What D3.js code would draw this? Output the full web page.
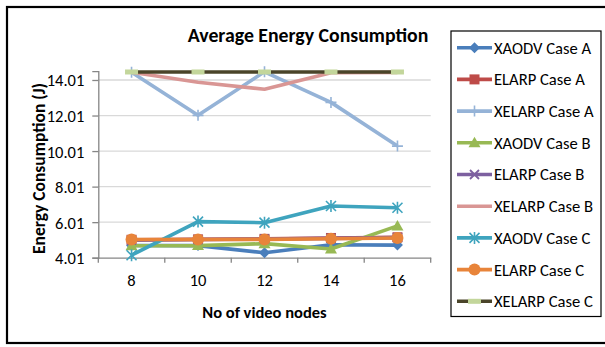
<!DOCTYPE html>
<html>
<head>
<meta charset="utf-8">
<script src="https://cdn.jsdelivr.net/npm/d3@7"></script>
<style>
  html, body { margin: 0; padding: 0; background: #fff; }
  svg text { font-family: Carlito, Lato, "Open Sans", sans-serif; fill: #000; }
</style>
</head>
<body>
<svg id="chart" width="605" height="347"></svg>
<script>
// Number of video nodes on the x axis
const nodes = [8, 10, 12, 14, 16];

// Average energy consumption (J) per protocol and case
const xaodvA  = [4.70, 4.69, 4.29, 4.74, 4.72];
const elarpA  = [5.02, 5.04, 5.07, 5.12, 5.16];
const xelarpA = [14.45, 12.02, 14.47, 12.75, 10.29];
const xaodvB  = [4.68, 4.69, 4.80, 4.50, 5.80];
const elarpB  = [5.00, 5.03, 5.06, 5.10, 5.14];
const xelarpB = [14.45, 13.88, 13.49, 14.42, 14.44];
const xaodvC  = [4.15, 6.04, 5.98, 6.92, 6.82];
const elarpC  = [5.03, 5.03, 5.04, 5.08, 5.12];
const xelarpC = [14.46, 14.46, 14.46, 14.46, 14.46];

const seriesNames = ["XAODV Case A", "ELARP Case A", "XELARP Case A",
                     "XAODV Case B", "ELARP Case B", "XELARP Case B",
                     "XAODV Case C", "ELARP Case C", "XELARP Case C"];
const seriesValues = [xaodvA, elarpA, xelarpA, xaodvB, elarpB, xelarpB, xaodvC, elarpC, xelarpC];

const yTicks = [4.01, 6.01, 8.01, 10.01, 12.01, 14.01];

// Line colour, marker shape and marker fill for each series
const lineColors   = ["#4A7EBB", "#BE4B48", "#95B3D7", "#98B954", "#7D60A0", "#D99694", "#3FA4BE", "#E8843A", "#4A4429"];
const markerShapes = ["diamond", "square", "plus", "triangle", "cross", "none", "asterisk", "circle", "dash"];
const markerFills  = ["#4A7EBB", "#BE4B48", "#95B3D7", "#98B954", "#7D60A0", "#D99694", "#3FA4BE", "#E8843A", "#C3D69B"];

const svg = d3.select("#chart");

// Outer chart frame
svg.append("rect")
  .attr("x", 7).attr("y", 7).attr("width", 610).attr("height", 336)
  .attr("fill", "#fff").attr("stroke", "#000").attr("stroke-width", 2.2);

const plot = { left: 98.3, right: 430.7, top: 71.1, bottom: 257.7 };

const x = d3.scaleBand().domain(nodes).range([plot.left, plot.right]);
const y = d3.scaleLinear().domain([4.01, 14.51]).range([plot.bottom, plot.top]);
const cx = d => x(d) + x.bandwidth() / 2;

// Horizontal gridlines
svg.append("g").selectAll("line").data(yTicks.slice(1)).join("line")
  .attr("x1", plot.left).attr("x2", plot.right)
  .attr("y1", d => y(d)).attr("y2", d => y(d))
  .attr("stroke", "#D9D9D9").attr("stroke-width", 1.3);

// Y axis
const yAxis = svg.append("g")
  .attr("transform", `translate(${plot.left},0)`)
  .call(d3.axisLeft(y).tickValues(yTicks).tickFormat(d3.format(".2f")).tickSize(6).tickPadding(8));
yAxis.select(".domain").attr("stroke", "#868686").attr("stroke-width", 1.3);
yAxis.selectAll(".tick line").attr("stroke", "#868686").attr("stroke-width", 1.3);
yAxis.selectAll(".tick text").attr("font-size", 16.5).attr("font-family", null).attr("dy", "0.36em");

// X axis with ticks at category boundaries
const xAxis = svg.append("g")
  .attr("transform", `translate(0,${plot.bottom})`)
  .call(d3.axisBottom(x).tickSize(0).tickPadding(17));
xAxis.select(".domain").attr("stroke", "#868686").attr("stroke-width", 1.3);
xAxis.selectAll(".tick text").attr("font-size", 16.5).attr("font-family", null);
const bounds = nodes.map(d => x(d)).concat([plot.right]);
xAxis.selectAll(".bound").data(bounds).join("line")
  .attr("class", "bound")
  .attr("x1", d => d).attr("x2", d => d).attr("y1", 0).attr("y2", 5)
  .attr("stroke", "#868686").attr("stroke-width", 1.3);

// Titles
svg.append("text").attr("x", 308).attr("y", 42).attr("text-anchor", "middle")
  .attr("font-size", 19.8).attr("font-weight", "bold").text("Average Energy Consumption");
svg.append("text").attr("x", 264.5).attr("y", 318).attr("text-anchor", "middle")
  .attr("font-size", 16.5).attr("font-weight", "bold").text("No of video nodes");
svg.append("text")
  .attr("transform", "translate(45,168.5) rotate(-90)")
  .attr("text-anchor", "middle")
  .attr("font-size", 17.5).attr("font-weight", "bold").text("Energy Consumption  (J)");

// Marker drawing
function drawMarker(g, shape, fill, stroke) {
  switch (shape) {
    case "diamond":
      g.append("path").attr("d", "M0,-5.5L5.5,0L0,5.5L-5.5,0Z").attr("fill", fill); break;
    case "square":
      g.append("rect").attr("x", -5).attr("y", -5).attr("width", 10).attr("height", 10).attr("fill", fill); break;
    case "triangle":
      g.append("path").attr("d", "M0,-6L6,4.5L-6,4.5Z").attr("fill", fill); break;
    case "circle":
      g.append("circle").attr("r", 6).attr("fill", fill); break;
    case "plus":
      g.append("path").attr("d", "M-5.5,0H5.5M0,-5.5V5.5").attr("stroke", stroke).attr("stroke-width", 1.6).attr("fill", "none"); break;
    case "cross":
      g.append("path").attr("d", "M-4.5,-4.5L4.5,4.5M-4.5,4.5L4.5,-4.5").attr("stroke", stroke).attr("stroke-width", 1.8).attr("fill", "none"); break;
    case "asterisk":
      g.append("path").attr("d", "M-5,-5L5,5M-5,5L5,-5M0,-6V6").attr("stroke", stroke).attr("stroke-width", 1.6).attr("fill", "none"); break;
    case "dash":
      g.append("rect").attr("x", -6.5).attr("y", -2.5).attr("width", 13).attr("height", 5).attr("fill", fill); break;
  }
}

const line = d3.line().x((d, i) => cx(nodes[i])).y(d => y(d));

// Series lines and markers
seriesValues.forEach((vals, s) => {
  const g = svg.append("g");
  g.append("path").datum(vals).attr("d", line)
    .attr("fill", "none").attr("stroke", lineColors[s]).attr("stroke-width", 3.6)
    .attr("stroke-linejoin", "round");
  vals.forEach((v, i) => {
    const m = g.append("g").attr("transform", `translate(${cx(nodes[i])},${y(v)})`);
    drawMarker(m, markerShapes[s], markerFills[s], lineColors[s]);
  });
});

// Legend
const legend = svg.append("g");
legend.append("rect").attr("x", 451).attr("y", 31).attr("width", 150).attr("height", 285.5)
  .attr("fill", "#fff").attr("stroke", "#000").attr("stroke-width", 1.2);
seriesNames.forEach((name, s) => {
  const ly = 47.7 + s * 31.7;
  const item = legend.append("g").attr("transform", `translate(0,${ly})`);
  item.append("line").attr("x1", 457).attr("x2", 492).attr("y1", 0).attr("y2", 0)
    .attr("stroke", lineColors[s]).attr("stroke-width", 3.6);
  const m = item.append("g").attr("transform", "translate(474.5,0)");
  drawMarker(m, markerShapes[s], markerFills[s], lineColors[s]);
  item.append("text").attr("x", 494).attr("y", 0).attr("dy", "0.36em")
    .attr("font-size", 16.6).text(name);
});
</script>
</body>
</html>
